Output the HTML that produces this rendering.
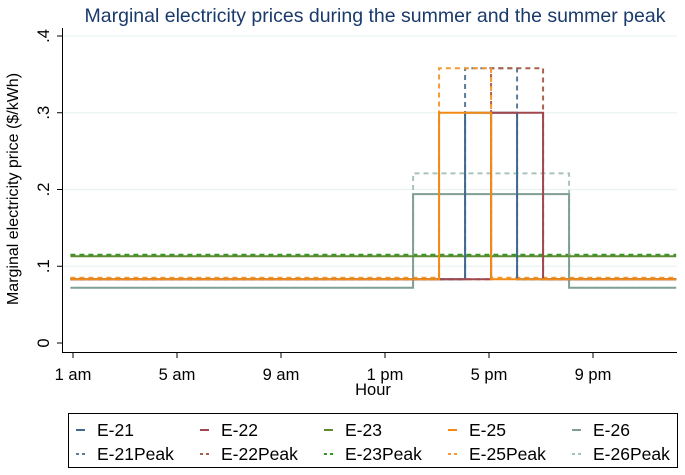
<!DOCTYPE html>
<html><head><meta charset="utf-8"><style>
body{margin:0;background:#fff;font-family:"Liberation Sans",sans-serif;}
svg text{font-family:"Liberation Sans",sans-serif;}
</style></head><body>
<svg id="chart" width="685" height="470" viewBox="0 0 685 470">
<text x="375" y="22" text-anchor="middle" font-size="19.5" fill="#1a3a6b">Marginal electricity prices during the summer and the summer peak</text>
<g id="grid"></g>
<g id="series"></g>
<g id="axes"></g>
<g id="legend"></g>
</svg>
<script>
const hours = [0,1,2,3,4,5,6,7,8,9,10,11,12,13,14,15,16,17,18,19,20,21,22,23];
const xTickLabels = ["1 am","5 am","9 am","1 pm","5 pm","9 pm"];
const xTickHours = [0,4,8,12,16,20];
const yTicks = [0,0.1,0.2,0.3,0.4];
const yTickLabels = ["0",".1",".2",".3",".4"];
const seriesNames = ["E-21","E-22","E-23","E-25","E-26","E-21Peak","E-22Peak","E-23Peak","E-25Peak","E-26Peak"];
const seriesColors = ["#41698f","#a0484e","#5e8a35","#f28a14","#7f9f94","#5b7b99","#a8634a","#2e9a1e","#f59a32","#a9c2bb"];
const seriesDash = [0,0,0,0,0,1,1,1,1,1];
// values for hours 1am..12am (24 points)
const e21 = [.083,.083,.083,.083,.083,.083,.083,.083,.083,.083,.083,.083,.083,.083,.083,.30,.30,.083,.083,.083,.083,.083,.083,.083];
const e22 = [.083,.083,.083,.083,.083,.083,.083,.083,.083,.083,.083,.083,.083,.083,.083,.083,.30,.30,.083,.083,.083,.083,.083,.083];
const e23 = [.113,.113,.113,.113,.113,.113,.113,.113,.113,.113,.113,.113,.113,.113,.113,.113,.113,.113,.113,.113,.113,.113,.113,.113];
const e25 = [.083,.083,.083,.083,.083,.083,.083,.083,.083,.083,.083,.083,.083,.083,.30,.30,.083,.083,.083,.083,.083,.083,.083,.083];
const e26 = [.072,.072,.072,.072,.072,.072,.072,.072,.072,.072,.072,.072,.072,.194,.194,.194,.194,.194,.194,.072,.072,.072,.072,.072];
const e21p = [.083,.083,.083,.083,.083,.083,.083,.083,.083,.083,.083,.083,.083,.083,.083,.358,.358,.083,.083,.083,.083,.083,.083,.083];
const e22p = [.083,.083,.083,.083,.083,.083,.083,.083,.083,.083,.083,.083,.083,.083,.083,.083,.358,.358,.083,.083,.083,.083,.083,.083];
const e23p = [.115,.115,.115,.115,.115,.115,.115,.115,.115,.115,.115,.115,.115,.115,.115,.115,.115,.115,.115,.115,.115,.115,.115,.115];
const e25p = [.085,.085,.085,.085,.085,.085,.085,.085,.085,.085,.085,.085,.085,.085,.358,.358,.085,.085,.085,.085,.085,.085,.085,.085];
const e26p = [.083,.083,.083,.083,.083,.083,.083,.083,.083,.083,.083,.083,.083,.221,.221,.221,.221,.221,.221,.083,.083,.083,.083,.083];
const drawOrder = [e26p,e23p,e21p,e22p,e25p,e26,e23,e21,e22,e25];
const drawIdx = [9,7,5,6,8,4,2,0,1,3];

const NS="http://www.w3.org/2000/svg";
const X = h => 73 + 26*h;
const Y = v => 343 - 767.5*v;
function mk(tag, attrs, parent){const e=document.createElementNS(NS,tag);for(const k in attrs)e.setAttribute(k,attrs[k]);parent.appendChild(e);return e;}
const grid=document.getElementById('grid'), axes=document.getElementById('axes'), ser=document.getElementById('series'), leg=document.getElementById('legend');

yTicks.forEach((t,i)=>{
  if(t>0){const g=mk('line',{x1:63,x2:677,y1:Y(t),y2:Y(t),stroke:'#eaf2f3','stroke-width':1.2},grid);
  
  }
  const tk=mk('line',{x1:57,x2:63,y1:Y(t),y2:Y(t),stroke:'#000','stroke-width':1},axes);
  
  
  const tx=mk('text',{x:0,y:0,'font-size':16.5,'text-anchor':'middle',transform:`translate(49,${Y(t)}) rotate(-90)`},axes);
  tx.textContent=yTickLabels[i];
  
  
});
const ya=mk('line',{x1:62.5,x2:62.5,y1:28,y2:352,stroke:'#000','stroke-width':1},axes);


const xa=mk('line',{x1:62,x2:677,y1:352.5,y2:352.5,stroke:'#000','stroke-width':1},axes);


xTickHours.forEach((h,i)=>{
  const tk=mk('line',{x1:X(h),x2:X(h),y1:352,y2:358,stroke:'#000','stroke-width':1},axes);
  
  
  const tx=mk('text',{x:X(h),y:380,'font-size':16.5,'text-anchor':'middle'},axes);
  tx.textContent=xTickLabels[i];
  
  
});
const xt=mk('text',{x:373,y:395,'font-size':16.5,'text-anchor':'middle'},axes);
xt.textContent='Hour';


const yt=mk('text',{x:0,y:0,'font-size':16,'text-anchor':'middle',transform:'translate(18,189) rotate(-90)'},axes);
yt.textContent='Marginal electricity price ($/kWh)';



drawOrder.forEach((vals,k)=>{
  const idx=drawIdx[k];
  let d='';
  vals.forEach((v,i)=>{
    const x0 = i===0 ? X(-0.1) : X(i+0.08);
    const x1 = i===vals.length-1 ? X(23.2) : X(i+1.08);
    d += (i===0?'M':'L')+x0+','+Y(v)+' L'+x1+','+Y(v)+' ';
  });
  const p=mk('path',{d:d,fill:'none',stroke:seriesColors[idx],'stroke-width':2},ser);
  if(seriesDash[idx]) p.setAttribute('stroke-dasharray','5,4');
  
  
});

const box=mk('rect',{x:68.5,y:413.5,width:609,height:54,fill:'#fff',stroke:'#000','stroke-width':1},leg);


seriesNames.forEach((n,i)=>{
  const col=i%5,row=Math.floor(i/5);
  const x=76+124*col, y=430+24*row;
  const g=mk('g',{},leg);
  
  
  const l=mk('line',{x1:x,x2:x+9,y1:y,y2:y,stroke:seriesColors[i],'stroke-width':2},g);
  if(seriesDash[i]) l.setAttribute('stroke-dasharray','3,3');
  const t=mk('text',{x:x+21,y:y+6,'font-size':17.5},g);
  t.textContent=n;
});
</script>
</body></html>
